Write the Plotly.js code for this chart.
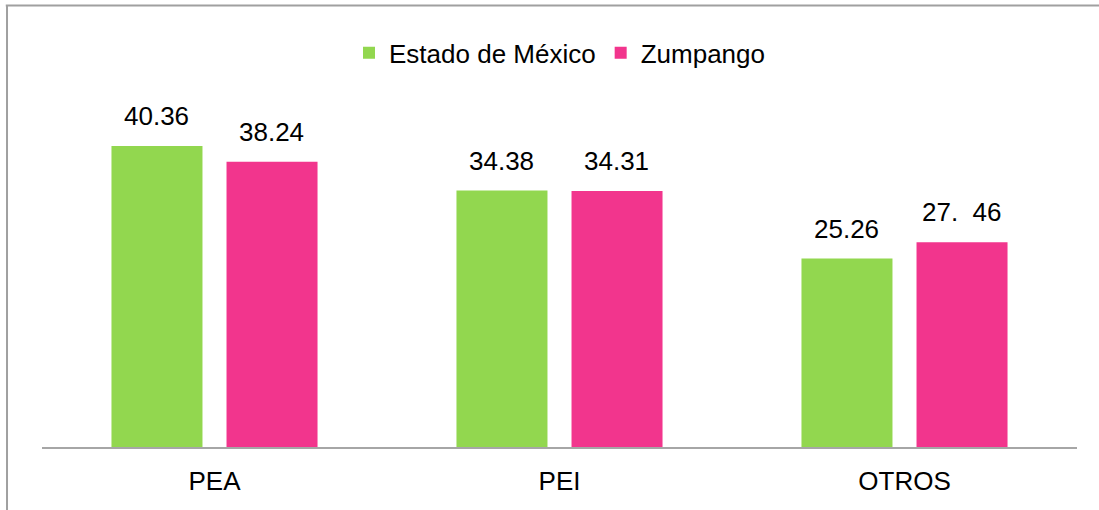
<!DOCTYPE html>
<html>
<head>
<meta charset="utf-8">
<script src="https://cdn.plot.ly/plotly-3.0.1.min.js"></script>
<style>html,body{margin:0;padding:0;background:#fff;}#chart{width:1099px;height:510px;}</style>
</head>
<body>
<div id="chart"></div>
<script>
const categories = ["PEA", "PEI", "OTROS"];
const seriesNames = ["Estado de México", "Zumpango"];
const estadoValues = [40.36, 34.38, 25.26];
const zumpangoValues = [38.24, 34.31, 27.46];
const estadoLabels = ["40.36", "34.38", "25.26"];
const zumpangoLabels = ["38.24", "34.31", "27.  46"];

const FONT = "Liberation Sans, Arial, sans-serif";
const green = "#92D74F";
const pink = "#F2358D";

const traces = [
  {type: "bar", name: seriesNames[0], x: categories, y: estadoValues, marker: {color: green}, hoverinfo: "none"},
  {type: "bar", name: seriesNames[1], x: categories, y: zumpangoValues, marker: {color: pink}, hoverinfo: "none"}
];

const annotations = [];
[[estadoValues, estadoLabels, -58], [zumpangoValues, zumpangoLabels, 57]].forEach(([vals, labs, xs]) => {
  vals.forEach((v, i) => {
    annotations.push({x: categories[i], y: v, xref: "x", yref: "y", text: labs[i], showarrow: false,
      xanchor: "center", yanchor: "bottom", xshift: xs, yshift: 13, font: {family: FONT, size: 26, color: "#000"}});
  });
});

const layout = {
  width: 1099, height: 510,
  margin: {l: 42, r: 22, t: 111, b: 63},
  paper_bgcolor: "#fff", plot_bgcolor: "#fff",
  barmode: "group", bargap: 0.333, bargroupgap: 0.209,
  font: {family: FONT, color: "#000"},
  xaxis: {type: "category", showline: true, linecolor: "#A6A6A6", linewidth: 2, showgrid: false, zeroline: false,
    ticks: "outside", ticklen: 10, tickcolor: "rgba(0,0,0,0)", tickfont: {family: FONT, size: 26, color: "#000"}},
  yaxis: {range: [0, 45.05], visible: false, showgrid: false, zeroline: false, fixedrange: true},
  showlegend: true,
  legend: {orientation: "h", x: 0.5, xanchor: "center", y: 1.173, yanchor: "middle",
    font: {family: FONT, size: 26, color: "#000"}, itemgap: 14, bgcolor: "rgba(0,0,0,0)"},
  annotations: annotations,
  shapes: [
    {type: "line", xref: "paper", yref: "paper", x0: -0.0338, x1: -0.0338, y0: 1.314, y1: -0.19, line: {color: "#A0A0A0", width: 2}},
    {type: "line", xref: "paper", yref: "paper", x0: -0.035, x1: 1.03, y0: 1.314, y1: 1.314, line: {color: "#A0A0A0", width: 2}}
  ]
};

Plotly.newPlot("chart", traces, layout, {displayModeBar: false, staticPlot: true});
</script>
</body>
</html>
